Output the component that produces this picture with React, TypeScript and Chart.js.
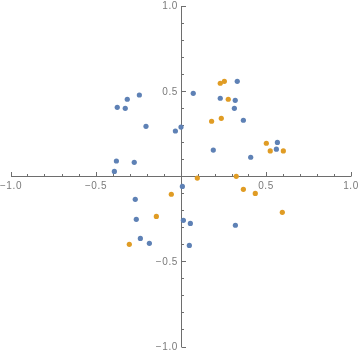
import React, { useEffect, useRef } from "react";
import { Chart, registerables } from "chart.js";

Chart.register(...registerables);

const blueX = [-0.245, -0.316, -0.375, -0.328, -0.206, -0.033, 0.0, -0.38, -0.275, -0.392, 0.072, 0.331, 0.231, 0.319, 0.314, 0.367, 0.567, 0.561, 0.19, 0.41, 0.008, -0.269, -0.263, 0.014, 0.055, 0.32, -0.239, -0.186, 0.049];
const blueY = [0.478, 0.453, 0.406, 0.4, 0.294, 0.267, 0.29, 0.091, 0.083, 0.03, 0.488, 0.558, 0.459, 0.447, 0.4, 0.33, 0.2, 0.16, 0.155, 0.113, -0.058, -0.134, -0.251, -0.257, -0.275, -0.286, -0.363, -0.392, -0.404];
const orangeX = [0.231, 0.255, 0.278, 0.18, 0.237, 0.502, 0.525, 0.602, 0.096, 0.325, 0.367, 0.437, -0.057, -0.145, -0.304, 0.596];
const orangeY = [0.547, 0.558, 0.453, 0.324, 0.341, 0.195, 0.15, 0.15, -0.009, 0.001, -0.075, -0.099, -0.104, -0.234, -0.398, -0.21];

const majorTicks = [-1, -0.5, 0.5, 1];
const tickLabels = ["−1.0", "−0.5", "0.5", "1.0"];
const minorTicks = [-0.9, -0.8, -0.7, -0.6, -0.4, -0.3, -0.2, -0.1, 0.1, 0.2, 0.3, 0.4, 0.6, 0.7, 0.8, 0.9];

const AXIS_COLOR = "#6e6e6e";
const TEXT_COLOR = "#7a7a7a";

const axesPlugin = {
  id: "centerAxes",
  beforeDatasetsDraw(chart: any) {
    const { ctx } = chart;
    const xs = chart.scales.x;
    const ys = chart.scales.y;
    const x0 = Math.floor(xs.getPixelForValue(0)) + 0.5;
    const y0 = Math.floor(ys.getPixelForValue(0)) + 0.5;
    ctx.save();
    ctx.strokeStyle = AXIS_COLOR;
    ctx.lineWidth = 1;
    ctx.beginPath();
    ctx.moveTo(xs.getPixelForValue(-1), y0);
    ctx.lineTo(xs.getPixelForValue(1), y0);
    ctx.moveTo(x0, ys.getPixelForValue(1));
    ctx.lineTo(x0, ys.getPixelForValue(-1));
    // major ticks
    majorTicks.forEach((v) => {
      const px = Math.floor(xs.getPixelForValue(v)) + 0.5;
      ctx.moveTo(px, y0);
      ctx.lineTo(px, y0 - 4.5);
      const py = Math.floor(ys.getPixelForValue(v)) + 0.5;
      ctx.moveTo(x0, py);
      ctx.lineTo(x0 + 4.5, py);
    });
    minorTicks.forEach((v) => {
      const px = Math.floor(xs.getPixelForValue(v)) + 0.5;
      ctx.moveTo(px, y0);
      ctx.lineTo(px, y0 - 2.5);
      const py = Math.floor(ys.getPixelForValue(v)) + 0.5;
      ctx.moveTo(x0, py);
      ctx.lineTo(x0 + 2.5, py);
    });
    ctx.stroke();

    ctx.fillStyle = TEXT_COLOR;
    ctx.font = "10px 'Liberation Sans', Arial, sans-serif";
    try { (ctx as any).letterSpacing = "0.6px"; } catch (e) {}
    ctx.textBaseline = "middle";
    majorTicks.forEach((v, i) => {
      ctx.textAlign = "center";
      ctx.fillText(tickLabels[i], xs.getPixelForValue(v), y0 + 9.5);
      ctx.textAlign = "right";
      ctx.fillText(tickLabels[i], x0 - 3.5, ys.getPixelForValue(v) + 0.5);
    });
    ctx.restore();
  },
};

export default function App() {
  const ref = useRef<HTMLCanvasElement | null>(null);
  useEffect(() => {
    if (!ref.current) return;
    const chart = new Chart(ref.current, {
      type: "scatter",
      data: {
        datasets: [
          {
            label: "blue",
            data: blueX.map((x, i) => ({ x, y: blueY[i] })),
            backgroundColor: "#5e81b5",
            borderColor: "#5e81b5",
            borderWidth: 0,
            pointRadius: 2.6,
          },
          {
            label: "orange",
            data: orangeX.map((x, i) => ({ x, y: orangeY[i] })),
            backgroundColor: "#e09c24",
            borderColor: "#e09c24",
            borderWidth: 0,
            pointRadius: 2.6,
          },
        ],
      },
      options: {
        animation: false,
        responsive: false,
        maintainAspectRatio: false,
        devicePixelRatio: 1,
        layout: { padding: { left: 11, right: 9, top: 6, bottom: 8 } },
        plugins: { legend: { display: false }, tooltip: { enabled: false } },
        scales: {
          x: { type: "linear", min: -1, max: 1, display: false },
          y: { type: "linear", min: -1, max: 1, display: false },
        },
      },
      plugins: [axesPlugin],
    });
    return () => chart.destroy();
  }, []);
  return (
    <div style={{ position: "absolute", left: 0, top: 0, width: 360, height: 355, background: "#fff" }}>
      <canvas ref={ref} width={360} height={355} style={{ width: 360, height: 355, display: "block" }} />
    </div>
  );
}
